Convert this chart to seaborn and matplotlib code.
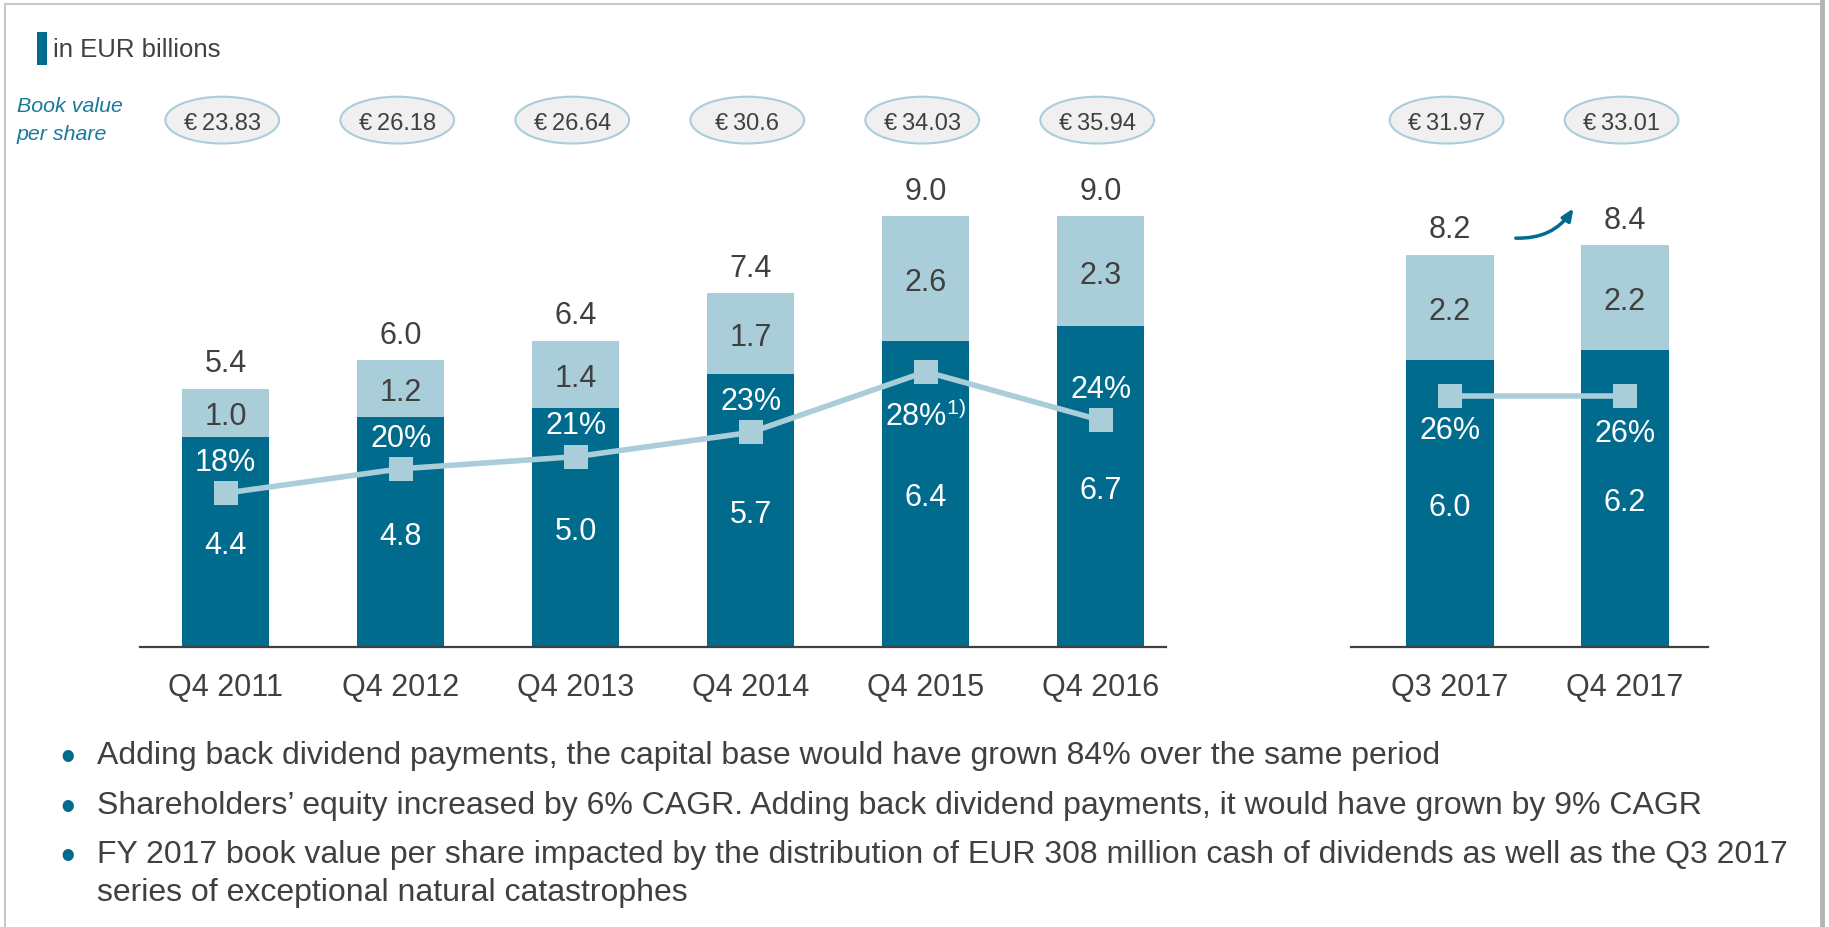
import numpy as np
import seaborn as sns
import matplotlib.pyplot as plt
from matplotlib.patches import Ellipse
from matplotlib import transforms

# --- data -------------------------------------------------------------
quarters_hist = ["Q4 2011", "Q4 2012", "Q4 2013", "Q4 2014", "Q4 2015", "Q4 2016"]
equity_hist = [4.4, 4.8, 5.0, 5.7, 6.4, 6.7]
other_hist = [1.0, 1.2, 1.4, 1.7, 2.6, 2.3]
roe_hist = [18, 20, 21, 23, 28, 24]
roe_note_hist = ["", "", "", "", "1)", ""]
bvps_hist = ["23.83", "26.18", "26.64", "30.6", "34.03", "35.94"]

quarters_2017 = ["Q3 2017", "Q4 2017"]
equity_2017 = [6.0, 6.2]
other_2017 = [2.2, 2.2]
roe_2017 = [26, 26]
roe_note_2017 = ["", ""]
bvps_2017 = ["31.97", "33.01"]

notes = [
    "Adding back dividend payments, the capital base would have grown 84% over the same period",
    "Shareholders\u2019 equity increased by 6% CAGR. Adding back dividend payments, it would have grown by 9% CAGR",
    "FY 2017 book value per share impacted by the distribution of EUR 308 million cash of dividends as well as the Q3 2017\nseries of exceptional natural catastrophes",
]

DARK = "#006B8D"
LIGHT = "#AACDDA"
GRAY = "#404040"
TEAL_TXT = "#17799B"

sns.set_style("white")
plt.rcParams["font.family"] = ["Liberation Sans", "DejaVu Sans"]
plt.rcParams["mathtext.fontset"] = "custom"
plt.rcParams["mathtext.rm"] = "Liberation Sans"

W, H = 1829, 928
fig = plt.figure(figsize=(W / 100, H / 100), dpi=100)


def px_axes(x0, x1, ytop, ybot):
    return fig.add_axes([x0 / W, 1 - ybot / H, (x1 - x0) / W, (ybot - ytop) / H])


def draw_panel(ax, quarters, equity, other, roe, roe_note, bvps, roe_off, xlim):
    n = len(quarters)
    totals = [e + o for e, o in zip(equity, other)]
    sns.barplot(x=quarters, y=totals, color=LIGHT, saturation=1, width=0.5,
                linewidth=0, ax=ax)
    sns.barplot(x=quarters, y=equity, color=DARK, saturation=1, width=0.5,
                linewidth=0, ax=ax)
    ax.set_ylim(0, 10.41)
    ax.set_xlim(*xlim)
    ax.set_yticks([])
    ax.set_xlabel("")
    ax.set_ylabel("")
    ax.patch.set_visible(False)
    for s in ["left", "right", "top"]:
        ax.spines[s].set_visible(False)
    ax.spines["bottom"].set_color(GRAY)
    ax.spines["bottom"].set_linewidth(1.6)
    ax.tick_params(axis="x", length=0, pad=18, labelsize=22, labelcolor=GRAY)

    ax2 = ax.twinx()
    sns.lineplot(x=np.arange(n), y=roe, ax=ax2, color=LIGHT, linewidth=4,
                 marker="s", markersize=17, markeredgewidth=0)
    ax2.set_ylim(5.31, 46.36)
    ax2.set_xlim(*xlim)
    ax2.set_yticks([])
    ax2.set_ylabel("")
    for s in ax2.spines.values():
        s.set_visible(False)

    for i in range(n):
        ax2.annotate(f"{totals[i]:.1f}", xy=(i, totals[i]), xycoords=ax.transData,
                     xytext=(0, 12.5), textcoords="offset points", ha="center",
                     va="baseline", fontsize=22, color=GRAY)
        ax2.annotate(f"{other[i]:.1f}", xy=(i, equity[i] + other[i] / 2),
                     xycoords=ax.transData, ha="center", va="center_baseline",
                     fontsize=22, color=GRAY)
        ax2.annotate(f"{equity[i]:.1f}", xy=(i, equity[i] / 2),
                     xycoords=ax.transData, ha="center", va="center_baseline",
                     fontsize=22, color="white")
        label = f"{roe[i]}%"
        if roe_note[i]:
            label += r"$^{\mathrm{" + roe_note[i] + "}}$"
        ax2.annotate(label, xy=(i, roe[i]), xytext=(0, roe_off[i]),
                     textcoords="offset points", ha="center",
                     va="center_baseline", fontsize=22, color="white")

    blend = transforms.blended_transform_factory(ax.transData, ax.transAxes)
    for i in range(n):
        ax.add_patch(Ellipse((i - 0.02, 1.058), 0.65, 0.094, transform=blend,
                             facecolor="#F0F0F0", edgecolor=LIGHT, lw=1.5,
                             clip_on=False))
        ax.text(i - 0.02, 1.058, "\u20ac\u2009" + bvps[i], transform=blend,
                ha="center", va="center_baseline", fontsize=17, color=GRAY,
                clip_on=False)
    return ax2


ax_hist = px_axes(140, 1166, 150, 648)
draw_panel(ax_hist, quarters_hist, equity_hist, other_hist, roe_hist,
           roe_note_hist, bvps_hist, [25, 25, 25, 25, -29, 25], (-0.49, 5.373))

ax_new = px_axes(1351, 1708, 150, 648)
draw_panel(ax_new, quarters_2017, equity_2017, other_2017, roe_2017,
           roe_note_2017, bvps_2017, [-22, -24], (-0.566, 1.474))

# overlay in pixel coordinates for frame, header, arrow and notes
ov = fig.add_axes([0, 0, 1, 1], zorder=5)
ov.set_xlim(0, W)
ov.set_ylim(H, 0)
ov.axis("off")
ov.patch.set_visible(False)
ov.plot([5, 5], [5, H], color="#C8C8C8", lw=1.5)
ov.plot([5, 1822], [5, 5], color="#C8C8C8", lw=1.5)
ov.plot([1822, 1822], [0, H], color="#B4B4B4", lw=3.5)
ov.add_patch(plt.Rectangle((37, 33), 10, 33, color=DARK, lw=0))
ov.text(53, 50, "in EUR billions", fontsize=18.5, color=GRAY, va="center")
ov.text(17, 107, "Book value", fontsize=15.4, style="italic", color=TEAL_TXT, va="center")
ov.text(17, 134, "per share", fontsize=15.4, style="italic", color=TEAL_TXT, va="center")

ov.annotate("", xy=(1575, 207), xytext=(1513, 239),
            arrowprops=dict(arrowstyle="-|>,head_length=0.7,head_width=0.3",
                            connectionstyle="arc3,rad=0.3", color=DARK, lw=2.5))

for y, txt in zip([755, 805, 854], notes):
    ov.text(68, y, "\u2022", fontsize=30, color=DARK, ha="center", va="center_baseline")
    ov.text(97, y - 14, txt, fontsize=23, color=GRAY, va="top", linespacing=1.33)

fig.savefig("out.png", dpi=100)
